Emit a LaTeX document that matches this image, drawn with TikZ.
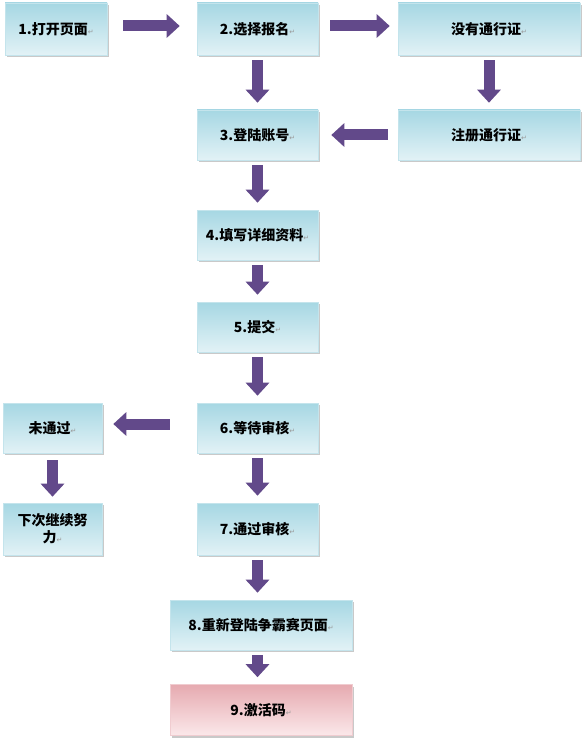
\documentclass[tikz,border=0pt]{standalone}
\usepackage{fontspec}
\newfontfamily\cjk{Noto Sans CJK SC}
\newfontfamily\symf{DejaVu Sans}
\usetikzlibrary{arrows.meta,shadows}
\definecolor{arrowpurple}{HTML}{62498A}
\definecolor{boxtop}{HTML}{A6D7E3}
\definecolor{boxbot}{HTML}{E2F2F6}
\definecolor{boxline}{HTML}{C4E4EC}
\definecolor{pinktop}{HTML}{E6AAB0}
\definecolor{pinkbot}{HTML}{FBE8EA}
\newcommand{\rmark}{{\symf\mdseries\color{gray!80}\fontsize{7}{7}\selectfont ↵}}
\tikzset{
  flowbox/.style={draw=boxline, line width=0.6pt, top color=boxtop, bottom color=boxbot,
    drop shadow={shadow xshift=1.5pt, shadow yshift=-2pt, fill=black!35, opacity=0.6},
    font=\cjk\bfseries\fontsize{14}{17}\selectfont, align=center, inner sep=2pt},
  pinkbox/.style={flowbox, draw=pinktop!60, top color=pinktop, bottom color=pinkbot},
  bigarrow/.style={draw=arrowpurple, line width=11pt,
    -{Triangle[width=23pt,length=13pt]}, arrowpurple}
}
\begin{document}
\begin{tikzpicture}[x=1pt,y=-1pt]
\useasboundingbox[fill=white] (0,0) rectangle (585,738);
% boxes
\node[flowbox, minimum width=102pt, minimum height=52pt] (b1) at (56,29) {1.打开页面\rmark};
\node[flowbox, minimum width=121pt, minimum height=52pt] (b2) at (257.5,29) {2.选择报名\rmark};
\node[flowbox, minimum width=182pt, minimum height=52pt] (bn) at (489,29) {没有通行证\rmark};
\node[flowbox, minimum width=121pt, minimum height=50pt] (b3) at (257.5,135) {3.登陆账号\rmark};
\node[flowbox, minimum width=182pt, minimum height=50pt] (br) at (489,135) {注册通行证\rmark};
\node[flowbox, minimum width=121pt, minimum height=50pt] (b4) at (257.5,235) {4.填写详细资料\rmark};
\node[flowbox, minimum width=121pt, minimum height=50pt] (b5) at (257.5,327) {5.提交\rmark};
\node[flowbox, minimum width=121pt, minimum height=50pt] (b6) at (257.5,428) {6.等待审核\rmark};
\node[flowbox, minimum width=99pt, minimum height=50pt] (bf) at (52.5,428) {未通过\rmark};
\node[flowbox, minimum width=99pt, minimum height=52pt] (bx) at (52.5,529) {下次继续努\\力\rmark};
\node[flowbox, minimum width=121pt, minimum height=52pt] (b7) at (257.5,529) {7.通过审核\rmark};
\node[flowbox, minimum width=182pt, minimum height=50pt] (b8) at (261,625) {8.重新登陆争霸赛页面\rmark};
\node[pinkbox, minimum width=182pt, minimum height=51pt] (b9) at (261,710) {9.激活码\rmark};
% arrows
\draw[bigarrow, shorten <=16pt, shorten >=17pt] ([yshift=3pt]b1.east) -- ([yshift=3pt]b1.east -| b2.west);
\draw[bigarrow, shorten <=12pt, shorten >=8pt] ([yshift=3pt]b2.east) -- ([yshift=3pt]b2.east -| bn.west);
\draw[bigarrow, shorten <=5pt, shorten >=7pt] (b2.south) -- (b3.north);
\draw[bigarrow, shorten <=5pt, shorten >=7pt] (bn.south) -- (br.north);
\draw[bigarrow, shorten <=10pt, shorten >=13pt] (br.west) -- (b3.east);
\draw[bigarrow, shorten <=5pt, shorten >=7pt] (b3.south) -- (b4.north);
\draw[bigarrow, shorten <=5pt, shorten >=7pt] (b4.south) -- (b5.north);
\draw[bigarrow, shorten <=5pt, shorten >=7pt] (b5.south) -- (b6.north);
\draw[bigarrow, shorten <=27pt, shorten >=11pt] ([yshift=4pt]b6.west) -- ([yshift=4pt]b6.west -| bf.east);
\draw[bigarrow, shorten <=7pt, shorten >=6pt] (bf.south) -- (bx.north);
\draw[bigarrow, shorten <=5pt, shorten >=7pt] (b6.south) -- (b7.north);
\draw[bigarrow, shorten <=5pt, shorten >=7pt] (b7.south) -- (b7.south |- b8.north);
\draw[bigarrow, shorten <=5pt, shorten >=7pt] (b7.south |- b8.south) -- (b7.south |- b9.north);
\end{tikzpicture}
\end{document}
